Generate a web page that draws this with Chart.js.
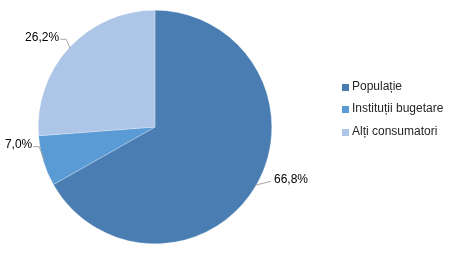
<!DOCTYPE html>
<html>
<head>
<meta charset="utf-8">
<script src="https://cdn.jsdelivr.net/npm/chart.js@4/dist/chart.umd.min.js"></script>
<style>
  html, body { margin: 0; padding: 0; background: #fff; }
  #box { width: 450px; height: 255px; }
</style>
</head>
<body>
<div id="box"><canvas id="c"></canvas></div>
<script>
const categories = ['Populație', 'Instituții bugetare', 'Alți consumatori'];
const shares = [66.8, 7.0, 26.2];
const shareLabels = ['66,8%', '7,0%', '26,2%'];
const colors = ['#4a7eb3', '#5b9bd5', '#adc5e6'];

// where each label sits relative to the slice edge (dx, dy, align)
const labelPos = [
    { dx: 19, dy: -6, align: 'left' },
    { dx: -12, dy: -16, align: 'right' },
    { dx: -11, dy: -11, align: 'right' }
];

const font = '12px "Liberation Sans", Arial, sans-serif';

const outsideLabels = {
    id: 'outsideLabels',
    afterDatasetsDraw(chart) {
        const ctx = chart.ctx;
        const arcs = chart.getDatasetMeta(0).data;
        ctx.save();
        ctx.font = font;
        ctx.textBaseline = 'middle';
        arcs.forEach((arc, i) => {
            const mid = (arc.startAngle + arc.endAngle) / 2;
            const ex = arc.x + Math.cos(mid) * (arc.outerRadius - 1);
            const ey = arc.y + Math.sin(mid) * (arc.outerRadius - 1);
            const p = labelPos[i];
            const tx = ex + p.dx;
            const ty = ey + p.dy;
            ctx.strokeStyle = '#a6a6a6';
            ctx.lineWidth = 1;
            ctx.beginPath();
            ctx.moveTo(ex, ey);
            const kx = p.align === 'left' ? tx - 3 : tx + 7;
            ctx.lineTo(kx, ty + 2);
            ctx.lineTo(p.align === 'left' ? tx - 3 : tx + 1, ty + 2);
            ctx.stroke();
            ctx.fillStyle = '#000';
            ctx.textAlign = p.align;
            ctx.fillText(shareLabels[i], tx, ty);
        });
        ctx.restore();
    }
};

const sideLegend = {
    id: 'sideLegend',
    afterDraw(chart) {
        const ctx = chart.ctx;
        const ys = [87, 109, 132];
        ctx.save();
        ctx.font = font;
        ctx.textBaseline = 'middle';
        ctx.textAlign = 'left';
        categories.forEach((name, i) => {
            ctx.fillStyle = colors[i];
            ctx.fillRect(342, ys[i] - 3, 7, 7);
            ctx.fillStyle = '#262626';
            ctx.fillText(name, 352, ys[i]);
        });
        ctx.restore();
    }
};

new Chart(document.getElementById('c'), {
    type: 'pie',
    data: {
        labels: categories,
        datasets: [{
            data: shares,
            backgroundColor: colors,
            borderColor: 'rgba(255,255,255,0.5)',
            borderWidth: 0.5
        }]
    },
    options: {
        responsive: true,
        maintainAspectRatio: false,
        animation: false,
        layout: { padding: { left: 38, top: 10, right: 178, bottom: 11 } },
        plugins: {
            legend: { display: false },
            tooltip: { enabled: false }
        }
    },
    plugins: [outsideLabels, sideLegend]
});
</script>
</body>
</html>
